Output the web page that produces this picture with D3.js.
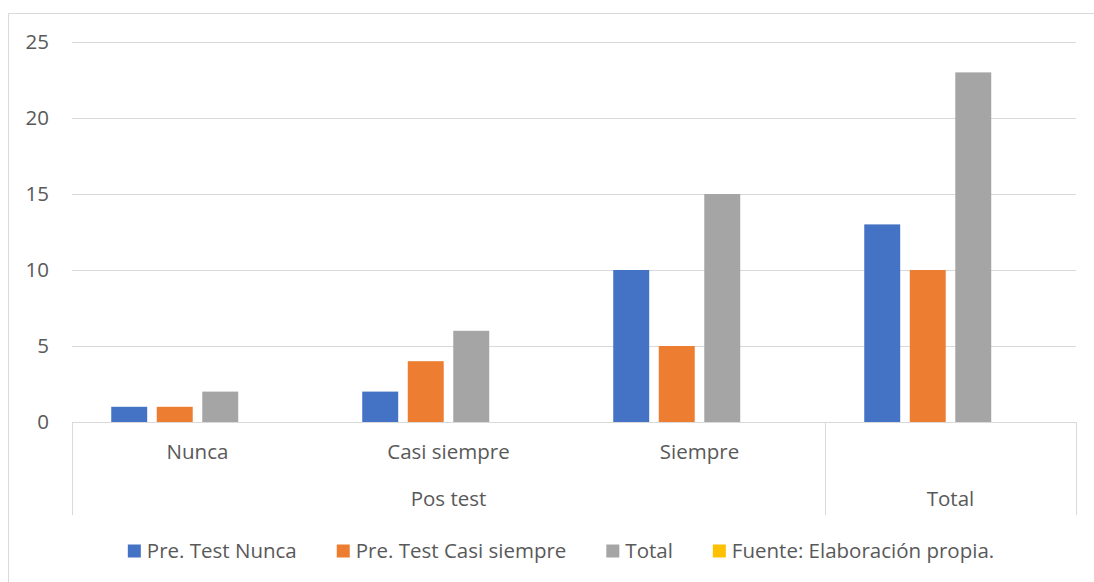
<!DOCTYPE html>
<html>
<head>
<meta charset="utf-8">
<script src="https://cdn.jsdelivr.net/npm/d3@7"></script>
<style>
  html, body { margin: 0; padding: 0; background: #fff; }
  svg { display: block; }
  text { font-family: "Open Sans", Lato, sans-serif; fill: #595959; }
</style>
</head>
<body>
<svg id="chart" width="1094" height="582"></svg>
<script>
// ---- data ----
const categories = ["Nunca", "Casi siempre", "Siempre", "Total"];
const groupLabels = [{label: "Pos test", from: 0, to: 2}, {label: "Total", from: 3, to: 3}];
const seriesNames = ["Pre. Test Nunca", "Pre. Test Casi siempre", "Total", "Fuente: Elaboración propia."];
const preTestNunca = [1, 2, 10, 13];
const preTestCasiSiempre = [1, 4, 5, 10];
const totalValues = [2, 6, 15, 23];
const fuenteValues = [null, null, null, null];
const yTicks = [0, 5, 10, 15, 20, 25];
const colors = ["#4472C4", "#ED7D31", "#A5A5A5", "#FFC000"];

const seriesValues = [preTestNunca, preTestCasiSiempre, totalValues, fuenteValues];

// ---- layout ----
const svg = d3.select("#chart");
const plot = {left: 72, right: 1076, top: 42, bottom: 422};
const fs = 20.5;

// chart frame (top and left edges visible)
svg.append("path")
  .attr("d", "M8.5,582 V13.5 H1094")
  .attr("fill", "none").attr("stroke", "#D9D9D9").attr("stroke-width", 1);

const y = d3.scaleLinear().domain([0, 25]).range([plot.bottom, plot.top]);
const x0 = d3.scaleBand().domain(categories).range([plot.left, plot.right]).padding(0);
const groupPad = 39.25;
const x1 = d3.scaleBand().domain(d3.range(seriesNames.length))
  .range([groupPad, x0.bandwidth() - groupPad]).paddingInner(0.21).paddingOuter(0);

// gridlines
svg.append("g").selectAll("line").data(yTicks.filter(d => d > 0)).join("line")
  .attr("x1", plot.left).attr("x2", plot.right)
  .attr("y1", d => Math.round(y(d)) + 0.5).attr("y2", d => Math.round(y(d)) + 0.5)
  .attr("stroke", "#D9D9D9").attr("stroke-width", 1);

// y tick labels
svg.append("g").selectAll("text").data(yTicks).join("text")
  .attr("x", 49).attr("y", d => y(d)).attr("dy", "0.35em")
  .attr("text-anchor", "end").attr("font-size", fs).text(d => d);

// bars
const groups = svg.append("g").selectAll("g").data(categories).join("g")
  .attr("transform", c => `translate(${x0(c)},0)`);
groups.selectAll("rect")
  .data((c, i) => seriesValues.map((vals, s) => ({s, v: vals[i]})).filter(d => d.v != null))
  .join("rect")
  .attr("x", d => x1(d.s)).attr("width", x1.bandwidth())
  .attr("y", d => y(d.v)).attr("height", d => y(0) - y(d.v))
  .attr("fill", d => colors[d.s]);

// category axis line
svg.append("line")
  .attr("x1", plot.left).attr("x2", plot.right)
  .attr("y1", plot.bottom + 0.5).attr("y2", plot.bottom + 0.5)
  .attr("stroke", "#D9D9D9").attr("stroke-width", 1);

// separators of the multi-level axis
const sepX = [plot.left, x0("Total"), plot.right];
svg.append("g").selectAll("line").data(sepX).join("line")
  .attr("x1", d => Math.round(d) + 0.5).attr("x2", d => Math.round(d) + 0.5)
  .attr("y1", plot.bottom).attr("y2", 515)
  .attr("stroke", "#D9D9D9").attr("stroke-width", 1);

// level-1 labels (Total has none at level 1)
svg.append("g").selectAll("text").data(categories.slice(0, 3)).join("text")
  .attr("x", c => x0(c) + x0.bandwidth() / 2).attr("y", 452).attr("dy", "0.35em")
  .attr("text-anchor", "middle").attr("font-size", fs).text(c => c);

// level-2 labels
svg.append("g").selectAll("text").data(groupLabels).join("text")
  .attr("x", g => (x0(categories[g.from]) + x0(categories[g.to]) + x0.bandwidth()) / 2)
  .attr("y", 499).attr("dy", "0.35em")
  .attr("text-anchor", "middle").attr("font-size", fs).text(g => g.label);

// legend
const legend = svg.append("g");
const items = legend.selectAll("g").data(seriesNames).join("g");
items.append("rect").attr("width", 13).attr("height", 13).attr("y", -6.5)
  .attr("fill", (d, i) => colors[i]);
items.append("text").attr("x", 19).attr("dy", "0.35em").attr("font-size", fs).text(d => d);
let cx = 0;
const pos = [];
items.each(function () {
  const w = this.getBBox().width;
  pos.push(cx);
  cx += w + 40;
});
const totalW = cx - 40;
const startX = 561 - totalW / 2;
items.attr("transform", (d, i) => `translate(${startX + pos[i]},551)`);
</script>
</body>
</html>
